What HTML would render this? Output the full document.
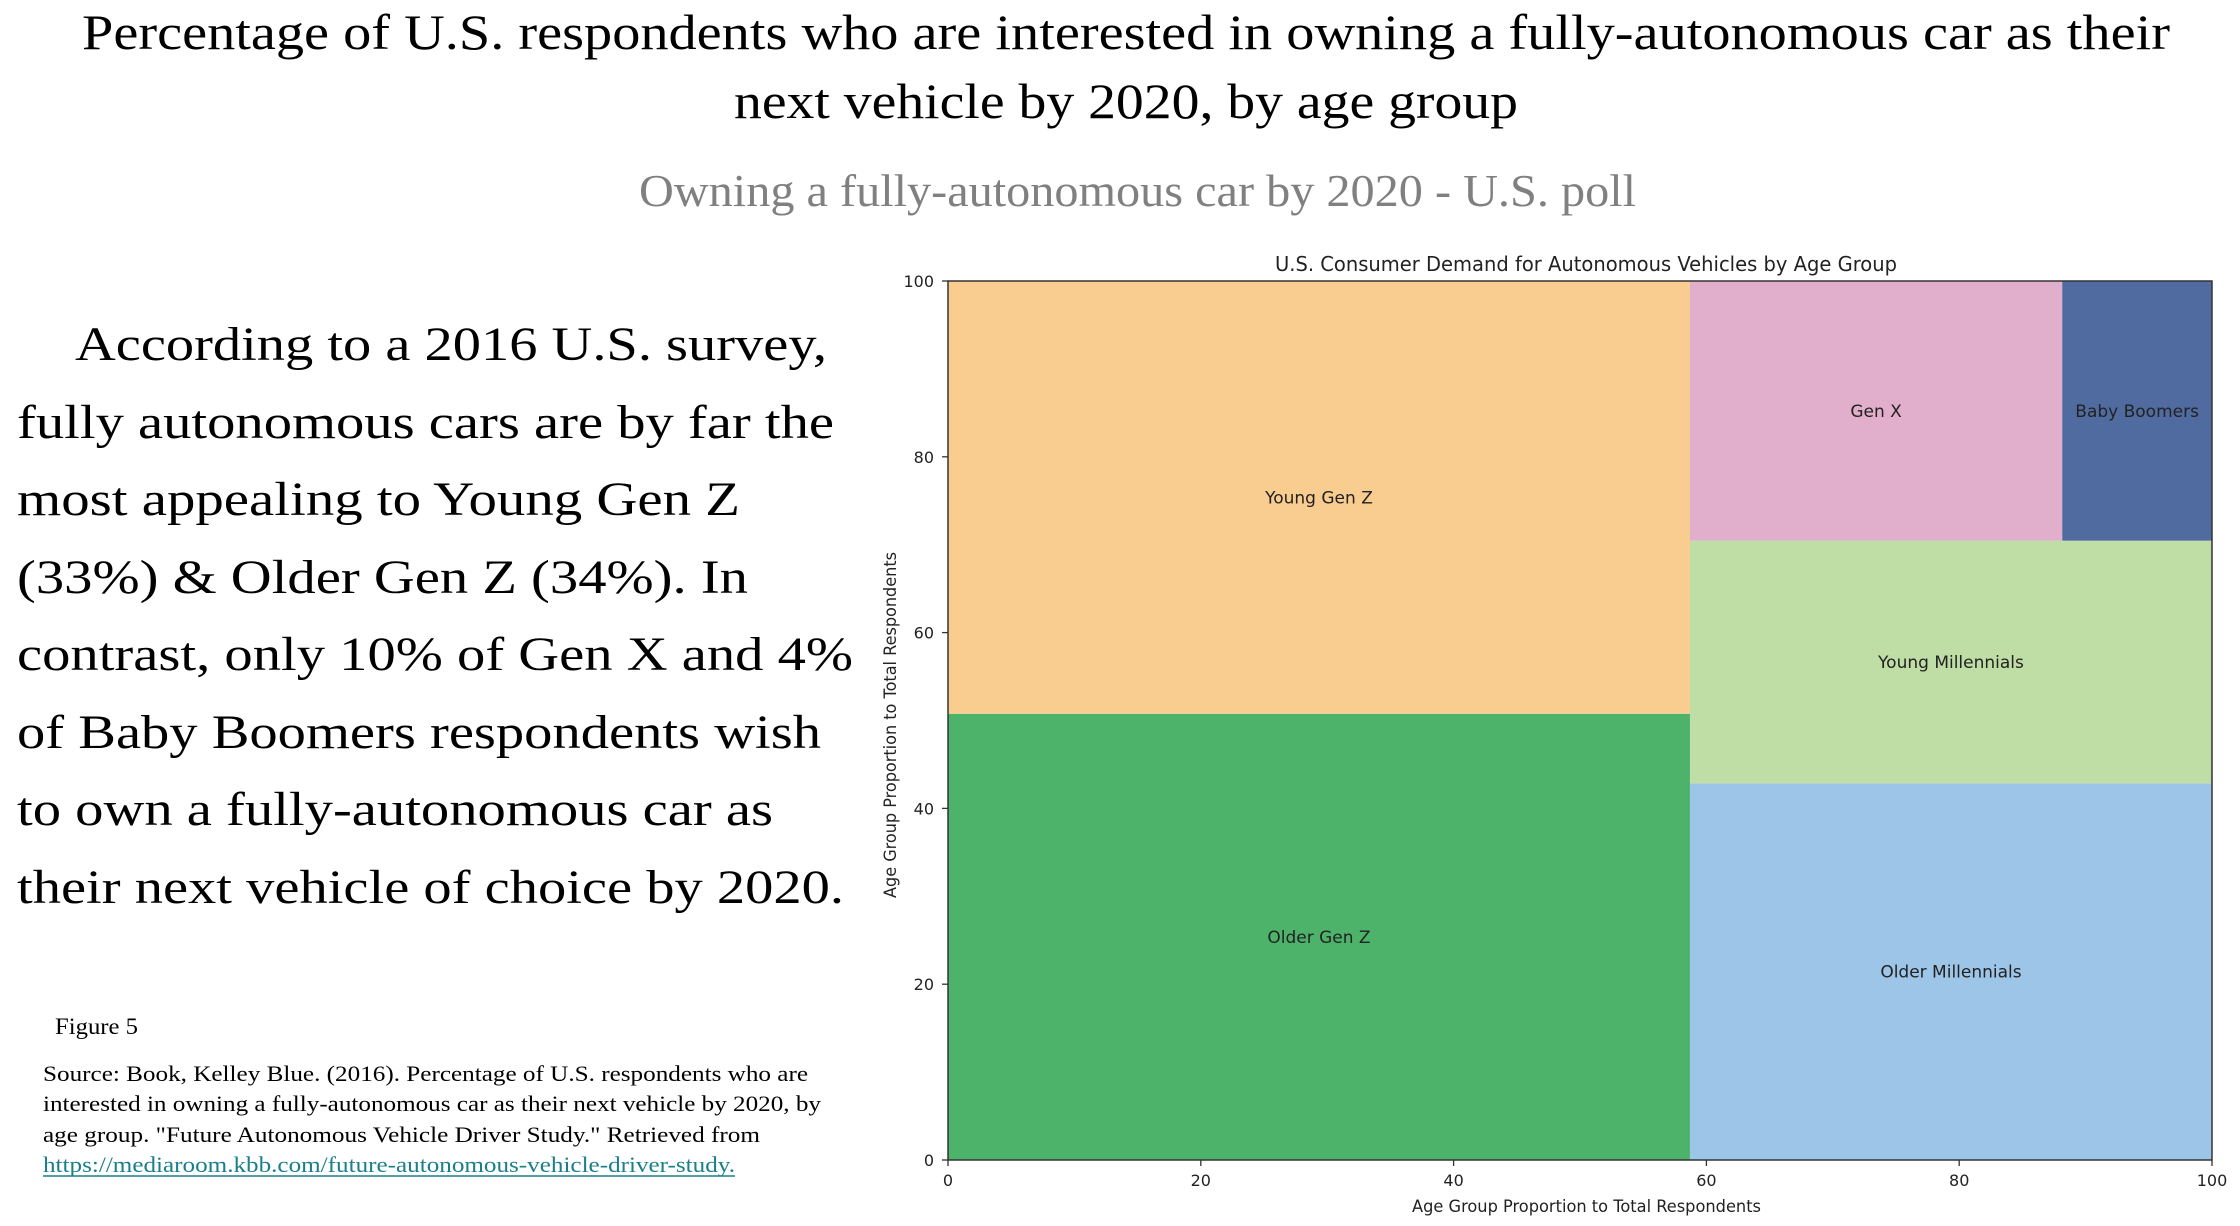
<!DOCTYPE html>
<html><head><meta charset="utf-8"><style>
html,body{margin:0;padding:0;background:#fff;}
svg{display:block;}
.serif{font-family:"Liberation Serif","Times New Roman",serif;}
.sans{font-family:"DejaVu Sans","Liberation Sans",sans-serif;}
</style></head><body>
<svg id="page" width="2240" height="1226" viewBox="0 0 2240 1226" xmlns="http://www.w3.org/2000/svg">
<g class="serif" fill="#000">
<text x="82" y="49" font-size="50" textLength="2088" lengthAdjust="spacingAndGlyphs">Percentage of U.S. respondents who are interested in owning a fully-autonomous car as their</text>
<text x="734" y="118" font-size="50" textLength="784" lengthAdjust="spacingAndGlyphs">next vehicle by 2020, by age group</text>
<text x="639" y="206" font-size="46" fill="#808080" textLength="997" lengthAdjust="spacingAndGlyphs">Owning a fully-autonomous car by 2020 - U.S. poll</text>
<g font-size="48">
<text x="75" y="360" textLength="752" lengthAdjust="spacingAndGlyphs">According to a 2016 U.S. survey,</text>
<text x="17" y="438" textLength="817" lengthAdjust="spacingAndGlyphs">fully autonomous cars are by far the</text>
<text x="17" y="515" textLength="723" lengthAdjust="spacingAndGlyphs">most appealing to Young Gen Z</text>
<text x="17" y="593" textLength="731" lengthAdjust="spacingAndGlyphs">(33%) &amp; Older Gen Z (34%). In</text>
<text x="17" y="670" textLength="836" lengthAdjust="spacingAndGlyphs">contrast, only 10% of Gen X and 4%</text>
<text x="17" y="748" textLength="804" lengthAdjust="spacingAndGlyphs">of Baby Boomers respondents wish</text>
<text x="17" y="825" textLength="756" lengthAdjust="spacingAndGlyphs">to own a fully-autonomous car as</text>
<text x="17" y="903" textLength="827" lengthAdjust="spacingAndGlyphs">their next vehicle of choice by 2020.</text>
</g>
<text x="55" y="1034" font-size="23" textLength="83" lengthAdjust="spacingAndGlyphs">Figure 5</text>
<g font-size="22">
<text x="43" y="1081" textLength="765" lengthAdjust="spacingAndGlyphs">Source: Book, Kelley Blue. (2016). Percentage of U.S. respondents who are</text>
<text x="43" y="1111" textLength="778" lengthAdjust="spacingAndGlyphs">interested in owning a fully-autonomous car as their next vehicle by 2020, by</text>
<text x="43" y="1142" textLength="717" lengthAdjust="spacingAndGlyphs">age group. "Future Autonomous Vehicle Driver Study." Retrieved from</text>
</g>
<text x="43" y="1172" font-size="22" fill="#1a7f8a" textLength="692" lengthAdjust="spacingAndGlyphs">https://mediaroom.kbb.com/future-autonomous-vehicle-driver-study.</text>
<line x1="43" y1="1176" x2="735" y2="1176" stroke="#1a7f8a" stroke-width="1.5"/>
</g>
<g id="chart" class="sans"></g>
</svg>
<script>
// Treemap data (areas as % of respondents)
const labels = ["Older Gen Z","Young Gen Z","Older Millennials","Young Millennials","Gen X","Baby Boomers"];
const areas = [29.8, 28.9, 17.7, 11.4, 8.7, 3.5];
const colors = ["#4db36b","#f9cd8f","#9cc5e8","#bfdea6","#e1afcb","#506b9f"];
const xTicks = [0,20,40,60,80,100];
const yTicks = [0,20,40,60,80,100];

const NS = "http://www.w3.org/2000/svg";
const PL = 948, PR = 2212, PT = 281, PB = 1160;
const sx = v => PL + (PR - PL) * v / 100;
const sy = v => PB - (PB - PT) * v / 100;
const chart = document.getElementById('chart');
function mk(tag, attrs, parent) {
  const e = document.createElementNS(NS, tag);
  for (const k in attrs) e.setAttribute(k, attrs[k]);
  (parent || chart).appendChild(e);
  return e;
}
const total = areas.reduce((a, b) => a + b, 0);
const norm = areas.map(a => a / total * 100);
const rects = [];
const w1 = norm[0] + norm[1];
let y = 0;
[0, 1].forEach(i => { const h = norm[i] / w1 * 100; rects[i] = {x: 0, y: y, w: w1, h: h}; y += h; });
const w2 = 100 - w1;
y = 0;
[2, 3].forEach(i => { const h = norm[i] / w2 * 100; rects[i] = {x: w1, y: y, w: w2, h: h}; y += h; });
const hRow = 100 - y;
let x = w1;
[4, 5].forEach(i => { const w = norm[i] / hRow * 100; rects[i] = {x: x, y: y, w: w, h: hRow}; x += w; });

rects.forEach((r, i) => {
  const el = mk('rect', {x: sx(r.x), y: sy(r.y + r.h), width: sx(r.x + r.w) - sx(r.x), height: sy(r.y) - sy(r.y + r.h), fill: colors[i]});
  
  
  const t = mk('text', {x: sx(r.x + r.w / 2), y: sy(r.y + r.h / 2) + 6, 'font-size': 17, 'text-anchor': 'middle', fill: '#222'});
  t.textContent = labels[i];
  
  
});
const frame = mk('rect', {x: PL, y: PT, width: PR - PL, height: PB - PT, fill: 'none', stroke: '#333', 'stroke-width': 1.5});


xTicks.forEach(v => {
  mk('line', {x1: sx(v), y1: PB, x2: sx(v), y2: PB + 6, stroke: '#333', 'stroke-width': 1.3});
  const t = mk('text', {x: sx(v), y: PB + 26, 'font-size': 16, 'text-anchor': 'middle', fill: '#222'});
  t.textContent = v;
  
  
});
yTicks.forEach(v => {
  mk('line', {x1: PL - 6, y1: sy(v), x2: PL, y2: sy(v), stroke: '#333', 'stroke-width': 1.3});
  const t = mk('text', {x: PL - 14, y: sy(v) + 6, 'font-size': 16, 'text-anchor': 'end', fill: '#222'});
  t.textContent = v;
  
  
});
const title = mk('text', {x: 1275, y: 271, 'font-size': 20, fill: '#222', textLength: 622, lengthAdjust: 'spacingAndGlyphs'});
title.textContent = 'U.S. Consumer Demand for Autonomous Vehicles by Age Group';


const xl = mk('text', {x: 1412, y: 1212, 'font-size': 17, fill: '#222', textLength: 349, lengthAdjust: 'spacingAndGlyphs'});
xl.textContent = 'Age Group Proportion to Total Respondents';


const yl = mk('text', {x: 0, y: 0, 'font-size': 17, fill: '#222', 'text-anchor': 'middle', transform: 'translate(896,725) rotate(-90)', textLength: 346, lengthAdjust: 'spacingAndGlyphs'});
yl.textContent = 'Age Group Proportion to Total Respondents';


</script>
</body></html>
